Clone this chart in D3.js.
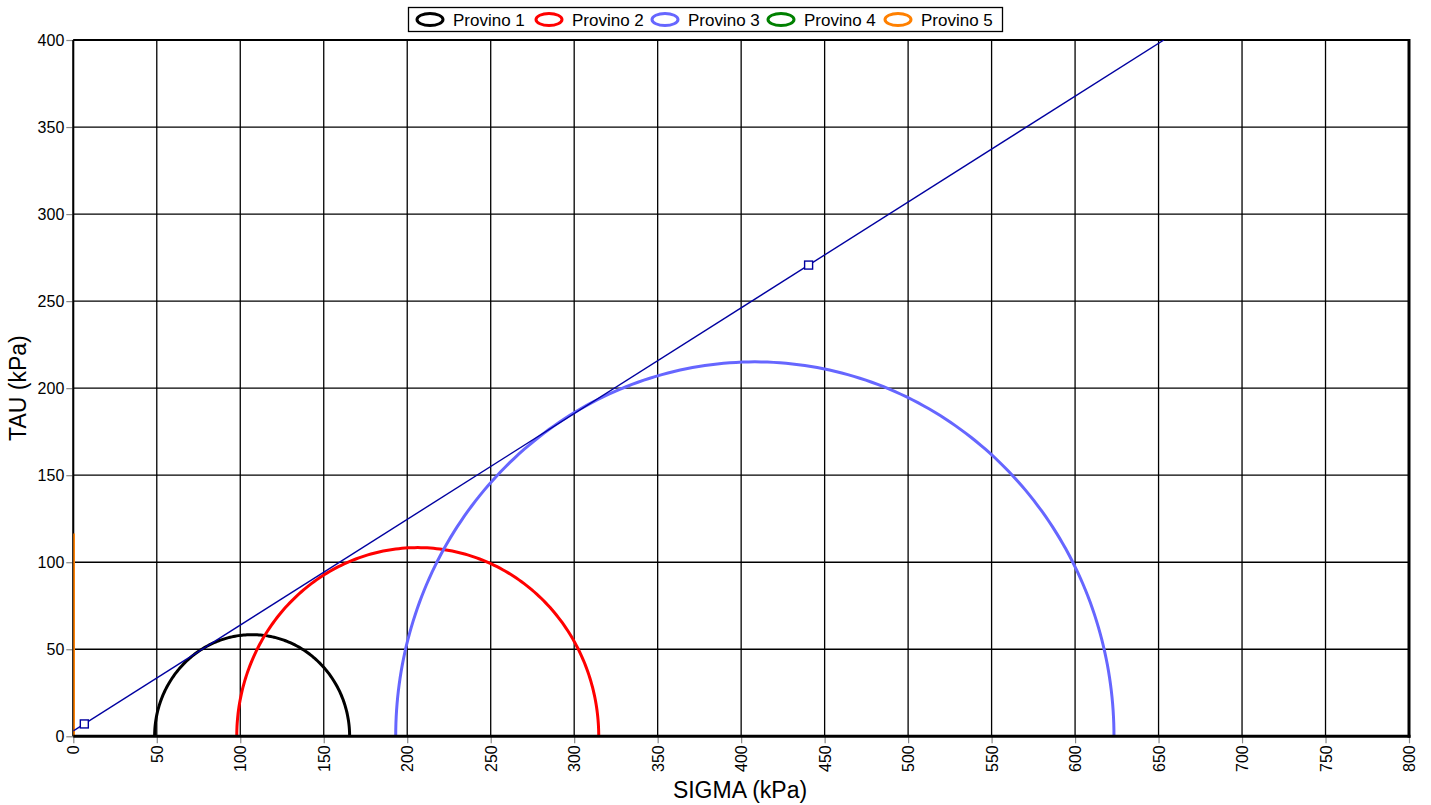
<!DOCTYPE html>
<html><head><meta charset="utf-8">
<script src="https://cdn.jsdelivr.net/npm/d3@7"></script>
<style>
body{margin:0;background:#fff;}
text{font-family:"Liberation Sans",Arial,sans-serif;}
</style></head>
<body><svg id="c" width="1431" height="805"></svg>
<script>
const seriesNames = ["Provino 1","Provino 2","Provino 3","Provino 4","Provino 5"];
const seriesColors = ["#000000","#ff0000","#6666ff","#008000","#ff8000"];
// Mohr circles: centre (sigma) and radius (kPa)
const circleCenters = [107.1, 206.3, 408.2];
const circleRadii = [58.4, 108.4, 215.1];
// Provino 5 drawn as vertical segment
const p5Sigma = [0.4, 0.4];
const p5Tau = [0, 116.5];
// envelope marker points
const envSigma = [6.6, 440.4];
const envTau = [7.1, 270.7];
const xTicks = d3.range(0, 801, 50);
const yTicks = d3.range(0, 401, 50);

const svg = d3.select("#c");
const L = 73.3, R = 1409, T = 40, B = 736.3;
const x = d3.scaleLinear().domain([0, 800]).range([L, R]);
const y = d3.scaleLinear().domain([0, 400]).range([B, T]);

svg.append("defs").append("clipPath").attr("id","clip")
  .append("rect").attr("x",L).attr("y",T).attr("width",R-L).attr("height",B-T);

// grid
const g = svg.append("g");
g.selectAll(".vx").data(xTicks).join("line")
  .attr("x1",d=>x(d)).attr("x2",d=>x(d)).attr("y1",T).attr("y2",B)
  .attr("stroke","#000").attr("stroke-width",1.3);
g.selectAll(".hy").data(yTicks).join("line")
  .attr("x1",L).attr("x2",R).attr("y1",d=>y(d)).attr("y2",d=>y(d))
  .attr("stroke","#000").attr("stroke-width",1.3);

// axes ticks
const xAxis = d3.axisBottom(x).tickValues(xTicks).tickSize(7).tickPadding(4);
const xg = svg.append("g").attr("transform",`translate(0,${B})`).call(xAxis);
xg.select(".domain").remove();
xg.selectAll(".tick line").attr("stroke","#888").attr("stroke-width",1.2);
xg.selectAll(".tick text").attr("font-size",16).attr("fill","#000")
  .attr("font-family","Liberation Sans, Arial, sans-serif")
  .attr("transform","rotate(-90)").attr("text-anchor","end")
  .attr("x",-9).attr("y",0).attr("dy","0.35em");

const yAxis = d3.axisLeft(y).tickValues(yTicks).tickSize(7).tickPadding(2);
const yg = svg.append("g").attr("transform",`translate(${L},0)`).call(yAxis);
yg.select(".domain").remove();
yg.selectAll(".tick line").attr("stroke","#888").attr("stroke-width",1.2);
yg.selectAll(".tick text").attr("font-size",16).attr("fill","#000")
  .attr("font-family","Liberation Sans, Arial, sans-serif");

// border
svg.append("line").attr("x1",L).attr("x2",R).attr("y1",T).attr("y2",T).attr("stroke","#000").attr("stroke-width",2);
svg.append("line").attr("x1",L).attr("x2",L).attr("y1",T).attr("y2",B).attr("stroke","#000").attr("stroke-width",2);
svg.append("line").attr("x1",R).attr("x2",R).attr("y1",T-1).attr("y2",B+1.5).attr("stroke","#000").attr("stroke-width",3);

const plot = svg.append("g").attr("clip-path","url(#clip)");

// circles
const ang = d3.range(0, 181, 1).map(a => a*Math.PI/180);
circleCenters.forEach((c,i)=>{
  const r = circleRadii[i];
  const pts = ang.map(a => [x(c + r*Math.cos(a)), y(r*Math.sin(a))]);
  plot.append("path").attr("d", d3.line()(pts)).attr("fill","none")
    .attr("stroke", seriesColors[i]).attr("stroke-width",3);
});
// Provino 5
plot.append("path").attr("d", d3.line()(p5Sigma.map((s,i)=>[x(s),y(p5Tau[i])])))
  .attr("fill","none").attr("stroke",seriesColors[4]).attr("stroke-width",2);

// envelope
const slope = (envTau[1]-envTau[0])/(envSigma[1]-envSigma[0]);
const icpt = envTau[0] - slope*envSigma[0];
const sEnd = (400 - icpt)/slope;
plot.append("line").attr("x1",x(0)).attr("y1",y(icpt)).attr("x2",x(sEnd)).attr("y2",y(400))
  .attr("stroke","#0000a0").attr("stroke-width",1.4);
envSigma.forEach((s,i)=>{
  svg.append("rect").attr("x",x(s)-4).attr("y",y(envTau[i])-4).attr("width",8).attr("height",8)
    .attr("fill","#fff").attr("stroke","#0000a0").attr("stroke-width",1.4);
});

// bottom axis line thick
svg.append("line").attr("x1",L).attr("x2",R+1.5).attr("y1",B).attr("y2",B).attr("stroke","#000").attr("stroke-width",3);

// axis titles
svg.append("text").attr("x",740).attr("y",798).attr("text-anchor","middle")
  .attr("font-size",23).text("SIGMA (kPa)");
svg.append("text").attr("transform",`translate(26,${(T+B)/2}) rotate(-90)`).attr("text-anchor","middle")
  .attr("font-size",23).text("TAU (kPa)");

// legend
const lg = svg.append("g");
lg.append("rect").attr("x",408.5).attr("y",7.5).attr("width",594).attr("height",24)
  .attr("fill","#fff").attr("stroke","#000").attr("stroke-width",1.3);
const itemX = [416, 535, 651, 767, 884];
seriesNames.forEach((n,i)=>{
  lg.append("ellipse").attr("cx",itemX[i]+14).attr("cy",19.5).attr("rx",13).attr("ry",6)
    .attr("fill","none").attr("stroke",seriesColors[i]).attr("stroke-width",3);
  lg.append("text").attr("x",itemX[i]+37).attr("y",25.5).attr("font-size",17).text(n);
});
</script></body></html>
